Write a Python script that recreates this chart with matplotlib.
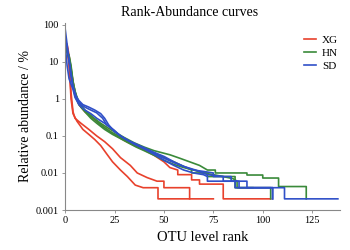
import matplotlib
matplotlib.use("Agg")
import matplotlib.pyplot as plt
from matplotlib.ticker import FixedLocator, FixedFormatter

# ---- data (rank, relative abundance %) ----
xg1_rank = [0, 1, 2, 3, 4, 6, 9, 12, 15, 18, 21, 24, 28, 31.5, 35.5, 39.5, 47, 47, 75]
xg1_val = [30, 28, 10, 1.0, 0.4, 0.25, 0.15, 0.11, 0.08, 0.055, 0.033, 0.02, 0.012, 0.008, 0.0047, 0.004, 0.004, 0.002, 0.002]

xg2_rank = [0, 1, 2, 3, 4, 5, 8, 12, 16, 20, 24, 28, 33, 36.5, 41.5, 46.5, 50, 50, 63, 63]
xg2_val = [25, 22, 8, 1.5, 0.45, 0.3, 0.22, 0.15, 0.1, 0.07, 0.045, 0.026, 0.016, 0.01, 0.0075, 0.006, 0.006, 0.004, 0.004, 0.002]

xg3_rank = [0, 1, 2, 3, 5, 7, 10, 14, 18, 22, 26, 30, 35, 40, 45, 50, 53, 57, 57, 64, 64, 68, 68, 80, 80, 104]
xg3_val = [35, 30, 15, 6, 1.5, 0.7, 0.45, 0.3, 0.2, 0.14, 0.1, 0.075, 0.055, 0.042, 0.03, 0.02, 0.014, 0.012, 0.009, 0.009, 0.0065, 0.0065, 0.005, 0.005, 0.002, 0.002]

hn1_rank = [0, 1, 2, 3, 4, 5, 7, 10, 14, 18, 22, 26, 30, 35, 40, 45, 53, 58, 63, 68, 72, 76, 76, 92, 92, 100, 100, 108, 108, 122, 122]
hn1_val = [25, 20, 15, 8, 3, 1.6, 0.8, 0.5, 0.32, 0.22, 0.16, 0.12, 0.09, 0.065, 0.05, 0.04, 0.031, 0.025, 0.02, 0.016, 0.012, 0.012, 0.01, 0.01, 0.0088, 0.0088, 0.0073, 0.0073, 0.0043, 0.0043, 0.002]

hn2_rank = [0, 1, 2, 3, 4, 5, 7, 10, 13, 16, 20, 24, 28, 32, 36, 40, 45, 50, 55, 60, 65, 70, 75, 80, 85, 87, 87, 104, 104]
hn2_val = [20, 18, 12, 6, 2.5, 1.2, 0.7, 0.45, 0.3, 0.22, 0.15, 0.11, 0.085, 0.065, 0.05, 0.04, 0.03, 0.022, 0.017, 0.014, 0.012, 0.01, 0.009, 0.008, 0.007, 0.006, 0.004, 0.004, 0.002]

hn3_rank = [0, 1, 2, 3, 4, 6, 8, 11, 15, 19, 23, 27, 31, 35, 40, 45, 50, 55, 60, 64, 64, 72, 72, 86, 86, 95]
hn3_val = [22, 19, 14, 7, 2.8, 1.0, 0.6, 0.42, 0.28, 0.18, 0.13, 0.1, 0.075, 0.058, 0.045, 0.035, 0.026, 0.02, 0.015, 0.012, 0.01, 0.01, 0.008, 0.008, 0.004, 0.004]

sd1_rank = [0, 1, 2, 3, 4, 5, 7, 9, 12, 15, 18, 20, 22, 25, 30, 35, 40, 45, 50, 55, 60, 65, 70, 75, 75, 84, 84, 92, 92, 111, 111, 138]
sd1_val = [80, 30, 10, 4, 2, 1.3, 0.9, 0.7, 0.6, 0.5, 0.4, 0.3, 0.2, 0.13, 0.085, 0.06, 0.045, 0.033, 0.025, 0.019, 0.015, 0.012, 0.011, 0.01, 0.008, 0.008, 0.006, 0.006, 0.004, 0.004, 0.002, 0.002]

sd2_rank = [0, 1, 2, 3, 4, 5, 7, 10, 13, 16, 20, 24, 28, 32, 36, 40, 45, 50, 55, 60, 65, 70, 72, 72, 88, 88, 105, 105]
sd2_val = [30, 8, 3.5, 2.5, 1.8, 1.1, 0.7, 0.5, 0.4, 0.3, 0.22, 0.15, 0.1, 0.075, 0.058, 0.045, 0.032, 0.022, 0.016, 0.012, 0.01, 0.009, 0.008, 0.006, 0.006, 0.004, 0.004, 0.002]

sd3_rank = [0, 1, 2, 3, 4, 6, 8, 10, 13, 16, 19, 21, 23, 25, 28, 32, 36, 40, 45, 50, 55, 60, 66, 72, 80, 80, 86, 86, 105, 105]
sd3_val = [40, 25, 12, 5, 2.2, 1.0, 0.7, 0.6, 0.5, 0.42, 0.3, 0.2, 0.17, 0.14, 0.1, 0.075, 0.06, 0.048, 0.036, 0.028, 0.02, 0.015, 0.012, 0.009, 0.008, 0.006, 0.006, 0.004, 0.004, 0.002]

groups = ["XG", "HN", "SD"]
colors = {"XG": "#e8412c", "HN": "#3a8a3a", "SD": "#3050c8"}
curves = {
    "XG": [(xg1_rank, xg1_val), (xg2_rank, xg2_val), (xg3_rank, xg3_val)],
    "HN": [(hn1_rank, hn1_val), (hn2_rank, hn2_val), (hn3_rank, hn3_val)],
    "SD": [(sd1_rank, sd1_val), (sd2_rank, sd2_val), (sd3_rank, sd3_val)],
}
yticks = [0.001, 0.01, 0.1, 1, 10, 100]
ytick_labels = ["0.001", "0.01", "0.1", "1", "10", "100"]
xticks = [0, 25, 50, 75, 100, 125]

plt.rcParams["font.family"] = ["Liberation Serif", "DejaVu Serif"]

fig = plt.figure(figsize=(3.5, 2.5), dpi=100)
ax = fig.add_axes([0.186, 0.16, 0.785, 0.748])

for g in groups:
    for i, (r, v) in enumerate(curves[g]):
        ax.plot(r, v, color=colors[g], lw=1.2, label=g if i == 0 else None)

ax.set_yscale("log")
ax.set_ylim(0.001, 112)
ax.set_xlim(0, 139)
ax.yaxis.set_major_locator(FixedLocator(yticks))
ax.yaxis.set_major_formatter(FixedFormatter(ytick_labels))
ax.yaxis.set_minor_locator(FixedLocator([]))
ax.set_xticks(xticks)
ax.tick_params(labelsize=7.5, length=2.5, width=0.6, color="#888888", pad=2)

for s in ["top", "right"]:
    ax.spines[s].set_visible(False)
for s in ["left", "bottom"]:
    ax.spines[s].set_color("#888888")
    ax.spines[s].set_linewidth(0.8)

ax.set_xlabel("OTU level rank", fontsize=10.5, labelpad=4)
ax.set_ylabel("Relative abundance / %", fontsize=10, labelpad=3)
fig.text(0.543, 0.95, "Rank-Abundance curves", ha="center", va="center", fontsize=10)

leg = ax.legend(loc="upper right", bbox_to_anchor=(1.03, 0.99), frameon=False,
                fontsize=8, handlelength=1.1, handletextpad=0.5, labelspacing=0.3)

fig.savefig("out.png", dpi=100)
